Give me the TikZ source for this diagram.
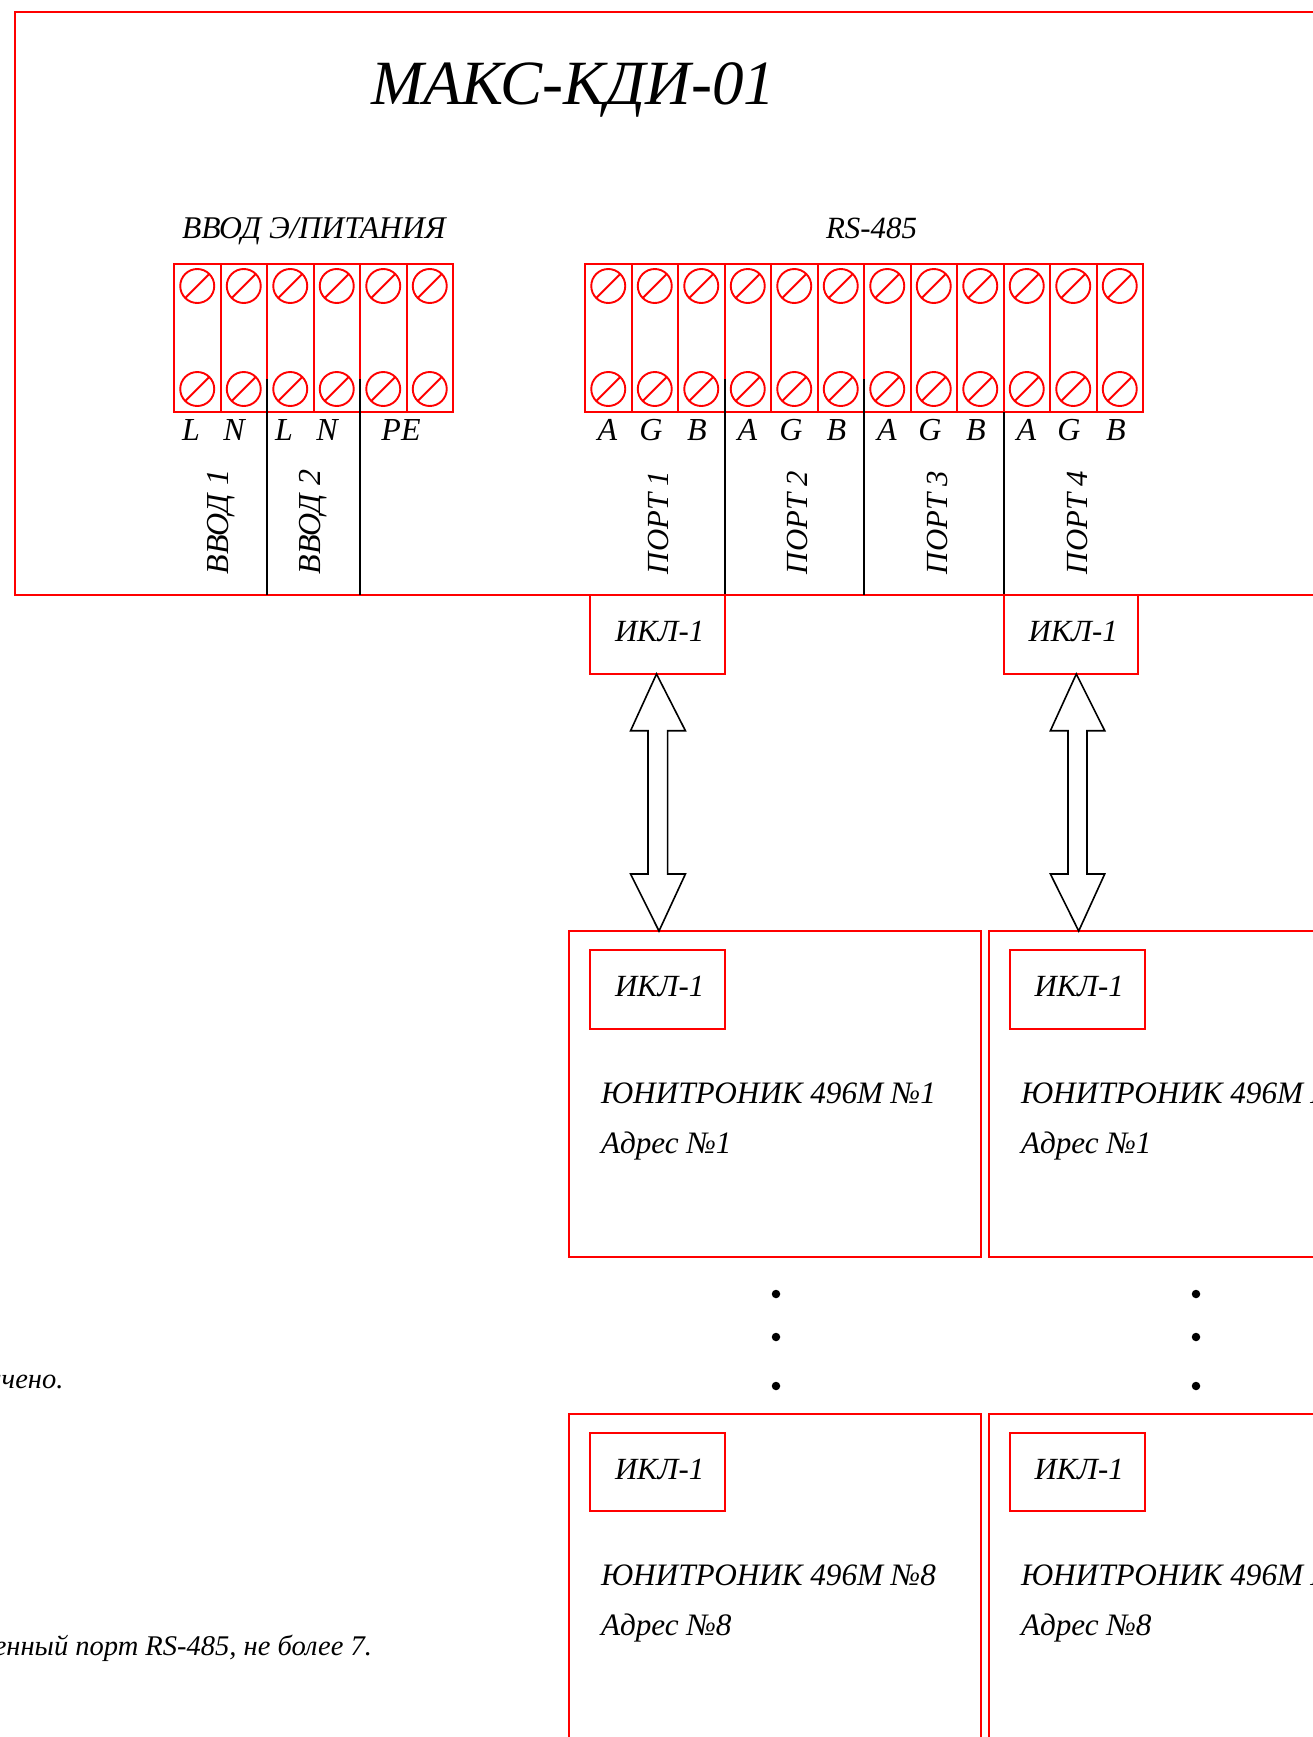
\documentclass[tikz,border=0pt]{standalone}
\usepackage{fontspec}
\setmainfont{Liberation Serif}
\tikzset{
  redbox/.style={draw=red,line width=2pt,rectangle,inner sep=0pt,outer sep=0pt,anchor=north west},
  cellbox/.style={redbox,minimum width=46.5pt,minimum height=148pt},
  iklbox/.style={redbox,minimum width=134.5pt,minimum height=78.7pt},
  devbox/.style={redbox,minimum width=412pt,minimum height=325.5pt},
  screw/.style={draw=red,line width=1.9pt,circle,minimum size=34pt,inner sep=0pt,outer sep=0pt},
  slash/.style={draw=red,line width=1.9pt},
  lbl/.style={inner sep=0pt,outer sep=0pt,anchor=base,font=\fontsize{32}{36}\selectfont\itshape},
  lblw/.style={lbl,anchor=base west},
  iklt/.style={lblw,font=\fontsize{30.8}{36}\selectfont\itshape},
  devt/.style={lblw,font=\fontsize{31.2}{36}\selectfont\itshape},
  lble/.style={inner sep=0pt,outer sep=0pt,anchor=base east,font=\fontsize{28.5}{32}\selectfont\itshape},
  vert/.style={lbl,anchor=base west,rotate=90},
  vertp/.style={vert,font=\fontsize{30.7}{36}\selectfont\itshape},
  blackline/.style={draw=black,line width=1.8pt},
  blockarrow/.style={draw=black,line width=1.6pt,line join=miter,fill=white},
  dotmark/.style={circle,fill=black,inner sep=0pt,minimum size=8.5pt}
}
\begin{document}
\begin{tikzpicture}[x=1pt,y=-1pt]
\useasboundingbox (0,0) rectangle (1313,1737);
\clip (0,0) rectangle (1313,1737);
% main frame
\node[redbox,minimum width=1400pt,minimum height=583pt] (frame) at (15,12) {};
\node[lblw,font=\fontsize{63}{66}\selectfont\itshape] (title) at (371,104) {МАКС-КДИ-01};
\node[lblw,font=\fontsize{31.6}{36}\selectfont\itshape] (inputs) at (182,238) {ВВОД Э/ПИТАНИЯ};
\node[lblw,font=\fontsize{30.9}{36}\selectfont\itshape] (rs) at (826,238) {RS-485};
% power terminals
\foreach \i in {0,...,5}{
  \pgfmathsetmacro{\xx}{174+46.5*\i}
  \pgfmathsetmacro{\cx}{\xx+23.25}
  \node[cellbox] (p\i) at (\xx,264) {};
  \node[screw] (pt\i) at (\cx,286) {};
  \node[screw] (pb\i) at (\cx,389) {};
  \draw[slash] (pt\i.45) -- (pt\i.225);
  \draw[slash] (pb\i.45) -- (pb\i.225);
}
% RS-485 terminals
\foreach \i in {0,...,11}{
  \pgfmathsetmacro{\xx}{585+46.5*\i}
  \pgfmathsetmacro{\cx}{\xx+23.25}
  \node[cellbox] (r\i) at (\xx,264) {};
  \node[screw] (rt\i) at (\cx,286) {};
  \node[screw] (rb\i) at (\cx,389) {};
  \draw[slash] (rt\i.45) -- (rt\i.225);
  \draw[slash] (rb\i.45) -- (rb\i.225);
}
% separators
\coordinate (s1) at (267,379);
\coordinate (s2) at (360,379);
\coordinate (s3) at (724.6,379);
\coordinate (s4) at (864,379);
\coordinate (s5) at (1004,412);
\coordinate (e1) at (267,595);
\coordinate (e2) at (360,595);
\coordinate (e3) at (724.6,595);
\coordinate (e4) at (864,595);
\coordinate (e5) at (1004,595);
\foreach \k in {1,...,5}{\draw[blackline] (s\k) -- (e\k);}
% terminal letters
\foreach \t/\x/\n in {L/191/a1,N/234/a2,L/284/a3,N/327/a4,PE/401/a5,
  A/607.5/b1,G/651/b2,B/697/b3,A/747.5/b4,G/791/b5,B/836.5/b6,A/887/b7,G/930/b8,B/976/b9,A/1026.5/b10,G/1069/b11,B/1116/b12}{
  \node[lbl] (\n) at (\x,440) {\t};
}
\node[vert] (v1) at (228,574) {ВВОД 1};
\node[vert] (v2) at (320,574) {ВВОД 2};
\node[vertp] (port1) at (668,574) {ПОРТ 1};
\node[vertp] (port2) at (807,574) {ПОРТ 2};
\node[vertp] (port3) at (947,574) {ПОРТ 3};
\node[vertp] (port4) at (1087,574) {ПОРТ 4};
% IKL on the controller
\node[iklbox] (ikla) at (590,595) {};
\node[iklbox] (iklb) at (1003.6,595) {};
\node[iklt] (iklat) at (615,641) {ИКЛ-1};
\node[iklt] (iklbt) at (1028.5,641) {ИКЛ-1};
% devices
\node[devbox] (da) at (569,931) {};
\node[devbox] (db) at (988.5,931) {};
\node[devbox,minimum height=400pt] (dc) at (569,1414) {};
\node[devbox,minimum height=400pt] (dd) at (988.5,1414) {};
\node[iklbox] (ia) at (590,950) {};
\node[iklbox] (ib) at (1010,950) {};
\node[iklbox] (ic) at (590,1432.7) {};
\node[iklbox] (id) at (1010,1432.7) {};
\node[iklt] at (615,996) (iat) {ИКЛ-1};
\node[iklt] at (1034.5,996) (ibt) {ИКЛ-1};
\node[iklt] at (615,1479) (ict) {ИКЛ-1};
\node[iklt] at (1034.5,1479) (idt) {ИКЛ-1};
\node[devt] at (601,1103) (na) {ЮНИТРОНИК 496М №1};
\node[devt] at (601,1153) (aa) {Адрес №1};
\node[devt] at (1021,1103) (nb) {ЮНИТРОНИК 496М №1};
\node[devt] at (1021,1153) (ab) {Адрес №1};
\node[devt] at (601,1585) (nc) {ЮНИТРОНИК 496М №8};
\node[devt] at (601,1635) (ac) {Адрес №8};
\node[devt] at (1021,1585) (nd) {ЮНИТРОНИК 496М №8};
\node[devt] at (1021,1635) (ad) {Адрес №8};
% block arrows
\coordinate (t1) at (656.5,674);
\coordinate (u1) at (659,931);
\coordinate (t2) at (1076.3,674);
\coordinate (u2) at (1078.7,931);
\draw[blockarrow] (t1) -- (630.6,730.7) -- (648,730.7) -- (648,874) -- (630.6,874) -- (u1) -- (685.4,874) -- (667.6,874) -- (667.6,730.7) -- (685.4,730.7) -- cycle;
\draw[blockarrow] (t2) -- (1050.4,730.7) -- (1068,730.7) -- (1068,874) -- (1050.4,874) -- (u2) -- (1104.7,874) -- (1087,874) -- (1087,730.7) -- (1104.7,730.7) -- cycle;
% dots
\foreach \y/\m in {1294/a,1337/b,1386/c}{
  \node[dotmark] (dl\m) at (776,\y) {};
  \node[dotmark] (dr\m) at (1196,\y) {};
}
% clipped notes
\node[lble] (note1) at (63.5,1388) {ичено.};
\node[lble] (note2) at (372,1655.5) {енный порт RS-485, не более 7.};
\end{tikzpicture}
\end{document}
